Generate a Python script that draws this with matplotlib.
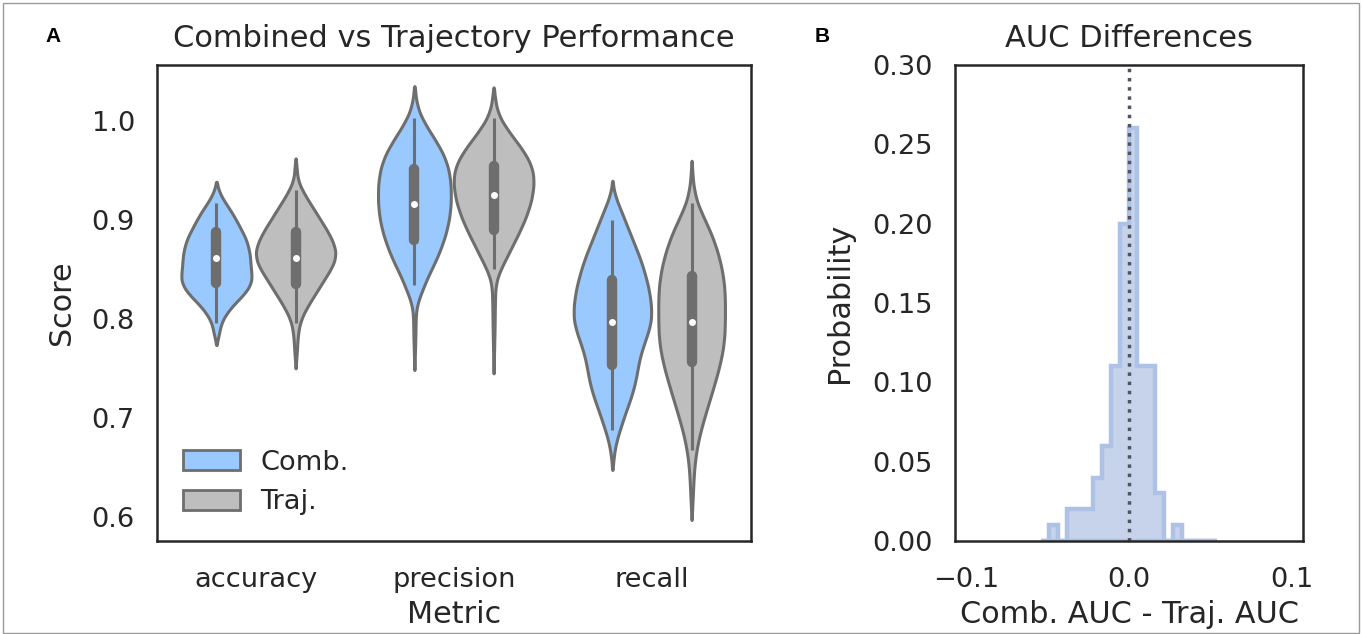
import numpy as np
import matplotlib
matplotlib.use("Agg")
import matplotlib.pyplot as plt
from matplotlib.patches import Rectangle, Patch

# ---------------- data ----------------
metrics = ["accuracy", "precision", "recall"]
groups = ["Comb.", "Traj."]

# violin outlines: score levels and half-widths (fraction-of-pixels units)
comb_acc_y = [0.9387, 0.934, 0.9269, 0.9168, 0.9067, 0.8933, 0.8798, 0.8663, 0.8529, 0.8428, 0.8360, 0.8259, 0.8158, 0.8057, 0.7956, 0.7855, 0.7737]
comb_acc_w = [0, 4, 10, 28, 48, 70, 90, 100, 103, 106, 104, 85, 55, 30, 14, 8, 0]
traj_acc_y = [0.9623, 0.9539, 0.9404, 0.9269, 0.9135, 0.9000, 0.8865, 0.8731, 0.8630, 0.8529, 0.8394, 0.8259, 0.8125, 0.7990, 0.7855, 0.7687, 0.7502]
traj_acc_w = [0, 3, 6, 25, 50, 75, 100, 118, 121, 110, 85, 60, 35, 15, 7, 4, 0]
comb_pre_y = [1.0353, 1.028, 1.0145, 1.001, 0.9875, 0.9741, 0.9606, 0.9438, 0.9269, 0.9101, 0.8933, 0.8764, 0.8596, 0.8428, 0.8259, 0.8158, 0.8057, 0.782, 0.7485]
comb_pre_w = [0, 3, 8, 25, 50, 75, 95, 107, 110, 108, 100, 85, 65, 40, 20, 8, 4, 3, 0]
traj_pre_y = [1.034, 1.0212, 1.0077, 0.9943, 0.9808, 0.9673, 0.9539, 0.9438, 0.9269, 0.9101, 0.8933, 0.8764, 0.8596, 0.8461, 0.836, 0.8192, 0.7922, 0.7451]
traj_pre_w = [0, 5, 12, 35, 65, 95, 115, 121, 118, 105, 85, 60, 35, 15, 6, 4, 3, 0]
comb_rec_y = [0.9397, 0.9269, 0.9101, 0.8933, 0.8764, 0.8596, 0.8428, 0.8259, 0.8057, 0.7922, 0.7754, 0.7586, 0.7417, 0.7249, 0.7081, 0.6912, 0.6744, 0.6643, 0.6475]
comb_rec_w = [0, 5, 25, 45, 65, 85, 100, 112, 118, 113, 95, 80, 72, 60, 42, 25, 10, 5, 0]
traj_rec_y = [0.9599, 0.9438, 0.9269, 0.9101, 0.8933, 0.8764, 0.8596, 0.8428, 0.8259, 0.7922, 0.7754, 0.7586, 0.7417, 0.7249, 0.7081, 0.6912, 0.6744, 0.6575, 0.6407, 0.6239, 0.5970]
traj_rec_w = [0, 3, 8, 25, 50, 70, 85, 95, 100, 100, 97, 88, 75, 60, 45, 30, 18, 10, 6, 4, 0]

# inner box statistics per metric
comb_q1 = [0.836, 0.880, 0.754]
comb_med = [0.862, 0.916, 0.797]
comb_q3 = [0.888, 0.952, 0.839]
comb_wlo = [0.796, 0.834, 0.688]
comb_whi = [0.917, 1.003, 0.900]
traj_q1 = [0.835, 0.890, 0.757]
traj_med = [0.862, 0.925, 0.797]
traj_q3 = [0.888, 0.955, 0.843]
traj_wlo = [0.796, 0.851, 0.668]
traj_whi = [0.930, 1.003, 0.917]

# histogram of AUC differences (probability per bin)
hist_lo, hist_hi, hist_nbins = -0.0542, 0.0538, 20
hist_probs = [0.0, 0.01, 0.0, 0.02, 0.02, 0.02, 0.04, 0.06, 0.11, 0.20,
              0.26, 0.11, 0.11, 0.03, 0.0, 0.01, 0.0, 0.0, 0.0, 0.0]

# ---------------- style ----------------
FONT = ["DejaVu Sans"]
plt.rcParams["font.family"] = FONT
TXT = "#262626"
GRAY = "#6e6e6e"
COMB_C = "#99c9ff"
TRAJ_C = "#bebebe"
TICK_FS = 19.6
LAB_FS = 21.8
TITLE_FS = 22

fig = plt.figure(figsize=(13.62, 6.34), dpi=100)
fig.patches.append(Rectangle((0.002, 0.002), 0.996, 0.994, transform=fig.transFigure,
                             fill=False, edgecolor="#9a9a9a", linewidth=1.0))

axA = fig.add_axes([157 / 1362, 1 - 541 / 634, (751 - 157) / 1362, (541 - 65) / 634])
axB = fig.add_axes([955 / 1362, 1 - 541 / 634, (1303 - 955) / 1362, (541 - 65) / 634])

PX_PER_UNIT = 594.0  # zoomed-pixel half-width -> data conversion


def violin(ax, xc, ys, ws, color):
    ys = np.asarray(ys, float)[::-1]
    ws = np.asarray(ws, float)[::-1] / PX_PER_UNIT
    yy = np.linspace(ys[0], ys[-1], 400)
    ww = np.interp(yy, ys, ws)
    k = 15
    pad = np.pad(ww, k, mode="edge")
    ww = np.convolve(pad, np.ones(2 * k + 1) / (2 * k + 1), mode="same")[k:-k]
    ww[0] = 0
    ww[-1] = 0
    ax.fill_betweenx(yy, xc - ww, xc + ww, facecolor=color, edgecolor=GRAY,
                     linewidth=2.2, zorder=2)


def inner(ax, xc, q1, med, q3, wlo, whi):
    ax.plot([xc, xc], [wlo, whi], color=GRAY, lw=2.2, solid_capstyle="butt", zorder=3)
    ax.plot([xc, xc], [q1, q3], color=GRAY, lw=7.5, solid_capstyle="round", zorder=3)
    ax.plot([xc], [med], "o", color="white", ms=4, mec="white", zorder=4)


comb_profiles = [(comb_acc_y, comb_acc_w), (comb_pre_y, comb_pre_w), (comb_rec_y, comb_rec_w)]
traj_profiles = [(traj_acc_y, traj_acc_w), (traj_pre_y, traj_pre_w), (traj_rec_y, traj_rec_w)]
for i, m in enumerate(metrics):
    violin(axA, i - 0.2, *comb_profiles[i], COMB_C)
    inner(axA, i - 0.2, comb_q1[i], comb_med[i], comb_q3[i], comb_wlo[i], comb_whi[i])
    violin(axA, i + 0.2, *traj_profiles[i], TRAJ_C)
    inner(axA, i + 0.2, traj_q1[i], traj_med[i], traj_q3[i], traj_wlo[i], traj_whi[i])

axA.set_xlim(-0.5, 2.5)
axA.set_ylim(0.5758, 1.0566)
axA.set_xticks(range(len(metrics)))
axA.set_xticklabels(metrics)
axA.set_yticks([0.6, 0.7, 0.8, 0.9, 1.0])
axA.set_yticklabels(["0.6", "0.7", "0.8", "0.9", "1.0"])
axA.set_xlabel("Metric", fontsize=LAB_FS, color=TXT, labelpad=5)
axA.set_ylabel("Score", fontsize=LAB_FS, color=TXT, labelpad=11)
axA.set_title("Combined vs Trajectory Performance", fontsize=TITLE_FS, color=TXT, pad=13)

handles = [Patch(facecolor=COMB_C, edgecolor=GRAY, linewidth=2.0, label=groups[0]),
           Patch(facecolor=TRAJ_C, edgecolor=GRAY, linewidth=2.0, label=groups[1])]
axA.legend(handles=handles, loc="lower left", frameon=False, fontsize=TICK_FS,
           handlelength=2.1, handleheight=0.75, borderaxespad=0.55, labelspacing=0.5,
           handletextpad=0.75, labelcolor=TXT)

# histogram
edges = np.linspace(hist_lo, hist_hi, hist_nbins + 1)
centers = 0.5 * (edges[:-1] + edges[1:])
axB.hist(centers, bins=edges, weights=hist_probs, histtype="stepfilled",
         facecolor="#c6d3eb", edgecolor="#aec2e6", linewidth=3.2, zorder=2)
axB.axvline(0, color="#50545e", linestyle=":", linewidth=2.5, zorder=3)
axB.set_xlim(-0.1067, 0.1067)
axB.set_ylim(0, 0.30)
axB.set_xticks([-0.1, 0.0, 0.1])
axB.set_xticklabels(["\u22120.1", "0.0", "0.1"])
axB.set_yticks([0.0, 0.05, 0.10, 0.15, 0.20, 0.25, 0.30])
axB.set_yticklabels(["0.00", "0.05", "0.10", "0.15", "0.20", "0.25", "0.30"])
axB.set_xlabel("Comb. AUC - Traj. AUC", fontsize=LAB_FS, color=TXT, labelpad=5)
axB.set_ylabel("Probability", fontsize=LAB_FS, color=TXT, labelpad=13)
axB.set_title("AUC Differences", fontsize=TITLE_FS, color=TXT, pad=13)

for ax in (axA, axB):
    for s in ax.spines.values():
        s.set_linewidth(1.8)
        s.set_color(TXT)
        s.set_zorder(5)
    ax.tick_params(axis="y", length=0, labelsize=TICK_FS, labelcolor=TXT, pad=16)
    ax.tick_params(axis="x", length=0, labelsize=TICK_FS, labelcolor=TXT, pad=19)

fig.text(53 / 1362, 1 - 36 / 634, "A", fontsize=15, fontweight="bold",
         family=["Liberation Sans", "DejaVu Sans"], ha="center", va="center", color="black")
fig.text(822 / 1362, 1 - 36 / 634, "B", fontsize=15, fontweight="bold",
         family=["Liberation Sans", "DejaVu Sans"], ha="center", va="center", color="black")

fig.savefig("out.png", dpi=100, facecolor="white")
